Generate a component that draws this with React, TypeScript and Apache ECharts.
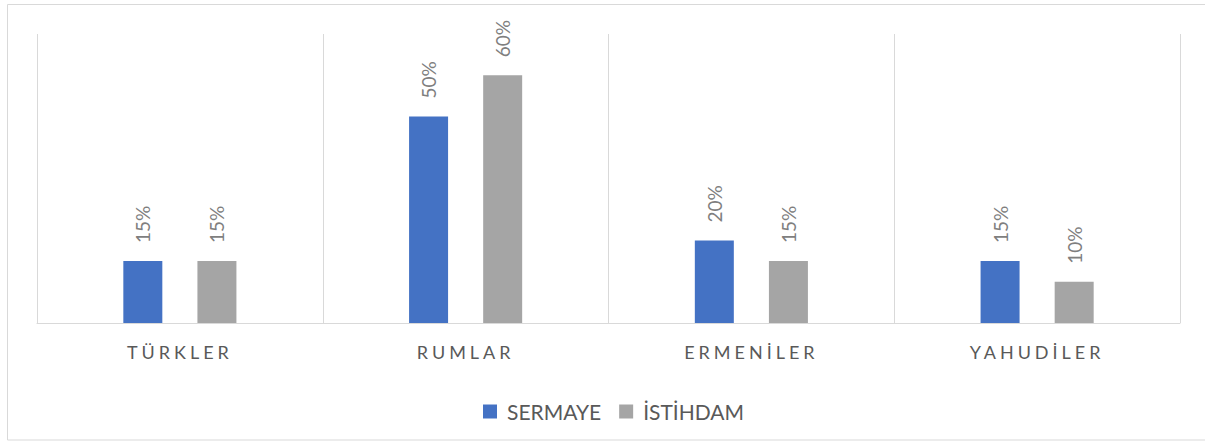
import React, { useEffect, useRef } from "react";
import * as echarts from "echarts";

const categories = ["TÜRKLER", "RUMLAR", "ERMENİLER", "YAHUDİLER"];
const sermaye = [15, 50, 20, 15];
const istihdam = [15, 60, 15, 10];
const seriesNames = ["SERMAYE", "İSTİHDAM"];

export default function App() {
  const ref = useRef<HTMLDivElement>(null);
  useEffect(() => {
    document.body.style.margin = "0";
    const chart = echarts.init(ref.current!, null, { renderer: "svg" });
    const font = "Lato, 'Open Sans', sans-serif";
    const label = {
      show: true,
      position: "top",
      rotate: 90,
      align: "left",
      verticalAlign: "middle",
      distance: 18,
      formatter: "{c}%",
      color: "#7f7f7f",
      fontSize: 19,
      fontFamily: font,
    };
    chart.setOption({
      animation: false,
      backgroundColor: "#ffffff",
      graphic: [
        {
          type: "rect",
          shape: { x: 7.5, y: 4.5, width: 1210, height: 435.5 },
          style: { fill: "none", stroke: "#d9d9d9", lineWidth: 1 },
          silent: true,
        },
      ],
      grid: { left: 37, right: 25, top: 34, bottom: 118 },
      legend: {
        data: seriesNames,
        top: 396,
        left: 478,
        icon: "rect",
        itemWidth: 14,
        itemHeight: 14,
        itemGap: 18,
        textStyle: {
          color: "#595959",
          fontSize: 21,
          fontFamily: font,
          padding: [0, 0, 0, 5],
        },
      },
      xAxis: {
        type: "category",
        data: categories,
        axisTick: { show: false },
        axisLine: { lineStyle: { color: "#d9d9d9", width: 1 } },
        splitLine: { show: true, lineStyle: { color: "#d9d9d9", width: 1 } },
        axisLabel: {
          color: "#595959",
          fontSize: 18,
          fontFamily: font,
          margin: 20,
        },
      },
      yAxis: {
        type: "value",
        min: 0,
        max: 70,
        show: false,
        splitLine: { show: false },
      },
      series: [
        {
          name: seriesNames[0],
          type: "bar",
          data: sermaye,
          barWidth: 39,
          barGap: "90%",
          itemStyle: { color: "#4472C4" },
          label,
        },
        {
          name: seriesNames[1],
          type: "bar",
          data: istihdam,
          barWidth: 39,
          barGap: "90%",
          itemStyle: { color: "#A5A5A5" },
          label,
        },
      ],
    });
    const applySpacing = () => {
      const texts = ref.current?.querySelectorAll("text") || [];
      texts.forEach((t) => {
        if (categories.includes((t.textContent || "").trim())) {
          (t as SVGTextElement).style.letterSpacing = "4px";
        }
      });
    };
    applySpacing();
    chart.on("finished", applySpacing);
    return () => {
      chart.dispose();
    };
  }, []);
  return <div ref={ref} style={{ width: 1205, height: 441 }} />;
}
